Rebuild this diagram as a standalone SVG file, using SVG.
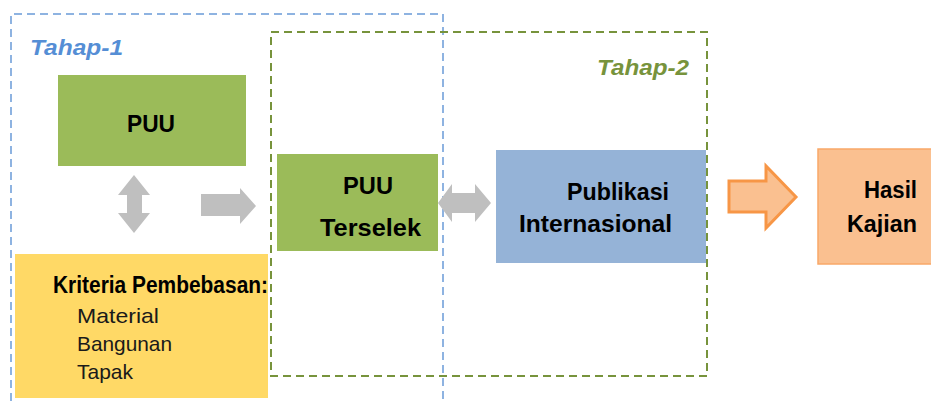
<svg xmlns="http://www.w3.org/2000/svg" width="931" height="403" viewBox="0 0 931 403">
<style>
.t{font-family:"Liberation Sans",Arial,sans-serif;font-weight:bold;font-size:23px;fill:#000}
.n{font-family:"Liberation Sans",Arial,sans-serif;font-size:21px;fill:#1a1a1a}
.stage{font-family:"Liberation Sans",Arial,sans-serif;font-weight:bold;font-style:italic;font-size:22px}
.gray{fill:#BFBFBF}
</style>
<rect width="931" height="403" fill="#fff"/>
<g id="tahap1">
<path d="M11,401 V14 H443 V403" fill="none" stroke="#6A9BD8" stroke-width="1.5" stroke-dasharray="8,5"/>
<text class="stage" x="30" y="55" fill="#558ED5" textLength="93" lengthAdjust="spacingAndGlyphs">Tahap-1</text>
</g>
<g id="tahap2">
<rect x="271" y="32" width="436" height="344" fill="none" stroke="#77933C" stroke-width="2" stroke-dasharray="8,5"/>
<text class="stage" x="597" y="75" fill="#77933C" textLength="92" lengthAdjust="spacingAndGlyphs">Tahap-2</text>
</g>
<g id="puu">
<rect x="58" y="75" width="188" height="91" fill="#9BBB59"/>
<text class="t" x="127" y="132" textLength="48" lengthAdjust="spacingAndGlyphs">PUU</text>
</g>
<g id="kriteria">
<rect x="15" y="254" width="253" height="144" fill="#FFD966"/>
<text class="t" x="53" y="293" font-size="20" textLength="215" lengthAdjust="spacingAndGlyphs">Kriteria Pembebasan:</text>
<text class="n" x="77" y="323" textLength="82" lengthAdjust="spacingAndGlyphs">Material</text>
<text class="n" x="77" y="351" textLength="95" lengthAdjust="spacingAndGlyphs">Bangunan</text>
<text class="n" x="77" y="379" textLength="56" lengthAdjust="spacingAndGlyphs">Tapak</text>
</g>
<g id="puu-terselek">
<rect x="277" y="154" width="161" height="97" fill="#9BBB59"/>
<text class="t" x="343" y="194" textLength="50" lengthAdjust="spacingAndGlyphs">PUU</text>
<text class="t" x="320" y="236" textLength="101" lengthAdjust="spacingAndGlyphs">Terselek</text>
</g>
<g id="publikasi">
<rect x="496" y="150" width="210" height="113" fill="#95B3D7"/>
<text class="t" x="567" y="200" textLength="102" lengthAdjust="spacingAndGlyphs">Publikasi</text>
<text class="t" x="519" y="232" textLength="153" lengthAdjust="spacingAndGlyphs">Internasional</text>
</g>
<g id="hasil">
<rect x="818" y="149" width="120" height="115" fill="#FAC090" stroke="#F9A868" stroke-width="1.5"/>
<text class="t" x="864" y="198" textLength="53" lengthAdjust="spacingAndGlyphs">Hasil</text>
<text class="t" x="847" y="232" textLength="70" lengthAdjust="spacingAndGlyphs">Kajian</text>
</g>
<g id="connectors">
<polygon class="gray" points="134,175 150,195 142,195 142,213 150,213 134,233 118,213 127,213 127,195 118,195"/>
<polygon class="gray" points="201,194 240,194 240,188 256,206 240,224 240,216 201,216"/>
<polygon class="gray" points="438,203 452,184 452,193 475,193 475,184 491,203 475,222 475,213 452,213 452,222"/>
<polygon points="729,181 766,181 766,166 796,197 766,228 766,212 729,212" fill="#FAC090" stroke="#F79646" stroke-width="3" stroke-linejoin="miter"/>
</g>
</svg>
